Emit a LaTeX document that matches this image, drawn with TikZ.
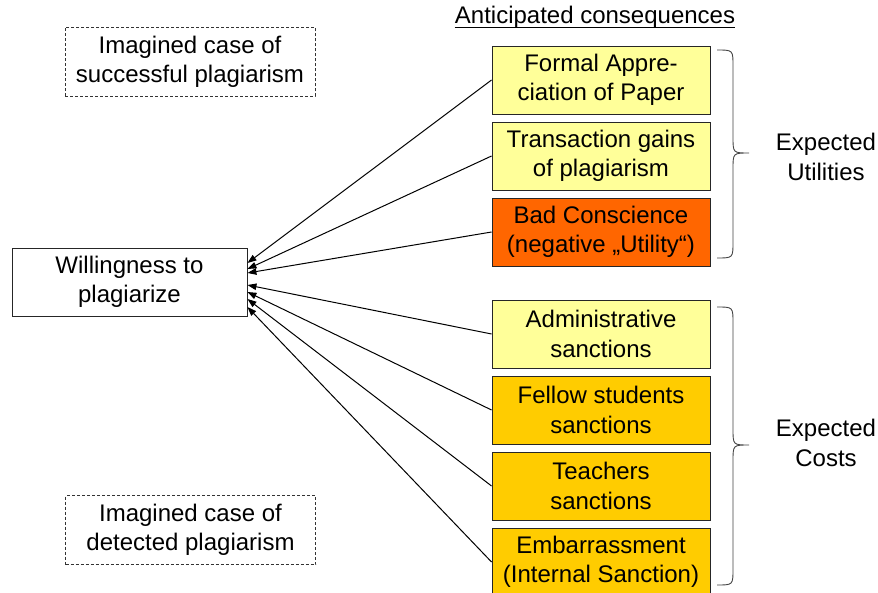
\documentclass[tikz,border=0pt]{standalone}
\usepackage{fontspec}
\setmainfont{Liberation Sans}
\usepackage{xcolor}
\usetikzlibrary{arrows.meta, positioning, calc}

\definecolor{paleyellow}{HTML}{FFFF99}
\definecolor{burntorange}{HTML}{FF6600}
\definecolor{goldyellow}{HTML}{FFCC00}

\begin{document}
\begin{tikzpicture}[x=1pt, y=-1pt, font=\fontsize{24}{29.5}\selectfont,
    conseq/.style={draw=black!85, line width=0.9pt, align=center, inner sep=0pt,
        minimum width=218pt, minimum height=68pt},
    imagined/.style={draw=black!80, line width=0.8pt, dash pattern=on 3pt off 2pt,
        align=center, inner sep=0pt, minimum width=250pt, minimum height=69pt},
    arr/.style={-{Triangle[length=9pt, width=6.5pt]}, line width=1pt},
    bracestyle/.style={draw=black!75, line width=0.9pt}]
    \useasboundingbox (0,0) rectangle (878,593);

    % left side
    \node[imagined] (success) at (190,62) {Imagined case of\\successful plagiarism};
    \node[draw=black!85, line width=0.9pt, align=center, inner sep=0pt,
        minimum width=235pt, minimum height=68pt] (will) at (129.5,282) {Willingness to\\plagiarize};
    \node[imagined] (detect) at (190.5,530) {Imagined case of\\detected plagiarism};

    % anticipated consequences
    \node[anchor=base, inner sep=0pt] (title) at (595,24) {Anticipated consequences};
    \draw[line width=1pt] ([yshift=-3.5pt]title.base west) -- ([yshift=-3.5pt]title.base east);
    \node[conseq, fill=paleyellow] (appr) at (601,80) {Formal Appre-\\ciation of Paper};
    \node[conseq, fill=paleyellow, below=7.1pt of appr] (gain) {Transaction gains\\of plagiarism};
    \node[conseq, fill=burntorange, below=7.1pt of gain] (consc) {Bad Conscience\\(negative „Utility“)};
    \node[conseq, fill=paleyellow] (admin) at (601,334) {Administrative\\sanctions};
    \node[conseq, fill=goldyellow, below=7.1pt of admin] (fellow) {Fellow students\\sanctions};
    \node[conseq, fill=goldyellow, below=7.1pt of fellow] (teach) {Teachers\\sanctions};
    \node[conseq, fill=goldyellow, below=7.1pt of teach] (embar) {Embarrassment\\(Internal Sanction)};

    % braces
    \draw[bracestyle] (717,50) .. controls (733,50) .. (733,66) -- (733,137)
        .. controls (733,153) .. (749,153) .. controls (733,153) .. (733,169)
        -- (733,242) .. controls (733,258) .. (717,258);
    \draw[bracestyle] (717,307) .. controls (733,307) .. (733,323) -- (733,429)
        .. controls (733,445) .. (749,445) .. controls (733,445) .. (733,461)
        -- (733,569) .. controls (733,585) .. (717,585);
    \node[align=center] (util) at (826,157) {Expected\\Utilities};
    \node[align=center] (cost) at (826,443) {Expected\\Costs};

    % arrows to the willingness
    \foreach \b/\o in {appr/-19, gain/-13, consc/-9, admin/3, fellow/10, teach/17, embar/25}
        \draw[arr] (\b.west) -- ($(will.east)+(0,\o)$);
\end{tikzpicture}
\end{document}
